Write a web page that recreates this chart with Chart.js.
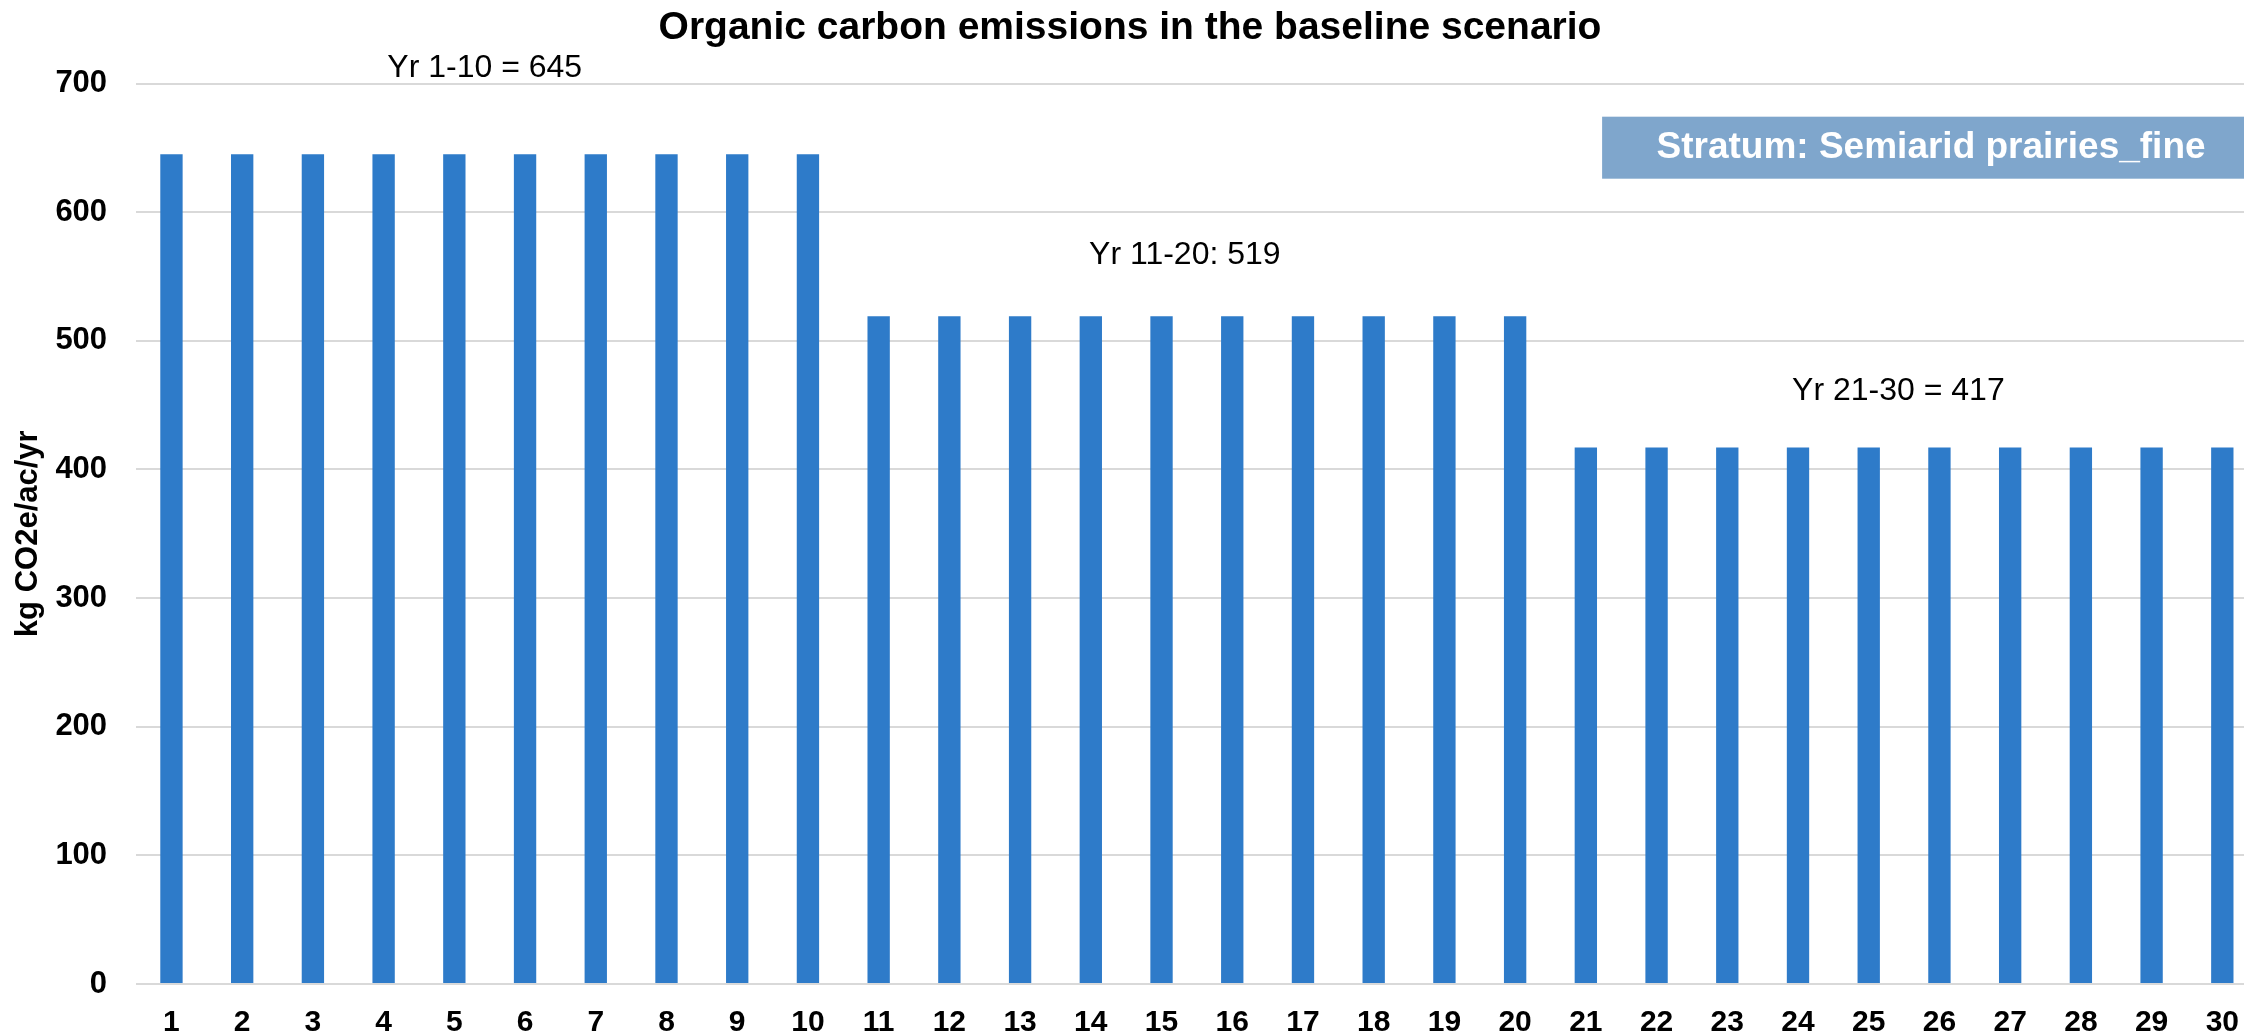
<!DOCTYPE html>
<html>
<head>
<meta charset="utf-8">
<script src="https://cdn.jsdelivr.net/npm/chart.js@4/dist/chart.umd.min.js"></script>
<style>
  html, body { margin: 0; padding: 0; background: #ffffff; overflow: hidden; }
  #wrap { position: relative; width: 2260px; height: 1036px; }
</style>
</head>
<body>
<div id="wrap"><canvas id="chart"></canvas></div>
<script>
// Project years
const years = ['1','2','3','4','5','6','7','8','9','10',
               '11','12','13','14','15','16','17','18','19','20',
               '21','22','23','24','25','26','27','28','29','30'];

// Organic carbon emissions per year (kg CO2e/ac/yr)
const emissions = [645, 645, 645, 645, 645, 645, 645, 645, 645, 645,
                   519, 519, 519, 519, 519, 519, 519, 519, 519, 519,
                   417, 417, 417, 417, 417, 417, 417, 417, 417, 417];

// Y axis range and step
const yMin = 0;
const yMax = 700;
const yStep = 100;

// Period averages written above each block of ten years
const periodLabels = [
  'Yr 1-10 = ' + emissions[0],
  'Yr 11-20: ' + emissions[10],
  'Yr 21-30 = ' + emissions[20]
];
// Where each period label sits, in (category index, axis value) units
const periodLabelAnchors = [
  { x: 4.43, y: 711.7 },
  { x: 14.33, y: 566.3 },
  { x: 24.42, y: 461.0 }
];

const stratumText = 'Stratum: Semiarid prairies_fine';

const FONT = "'Liberation Sans', Arial, Helvetica, sans-serif";

const annotations = {
  id: 'annotations',
  afterDraw(chart) {
    const { ctx, scales: { x, y } } = chart;
    ctx.save();

    // Stratum banner in the upper right
    const bx0 = x.getPixelForValue(20.23);
    const bx1 = chart.width;
    const by0 = y.getPixelForValue(674.2);
    const by1 = y.getPixelForValue(626.0);
    ctx.fillStyle = '#7fa6cc';
    ctx.fillRect(bx0, by0, bx1 - bx0, by1 - by0);
    ctx.fillStyle = '#ffffff';
    ctx.font = 'bold 37px ' + FONT;
    ctx.textAlign = 'center';
    ctx.textBaseline = 'middle';
    ctx.fillText(stratumText, (bx0 + bx1) / 2, (by0 + by1) / 2);

    // Period averages
    ctx.fillStyle = '#000000';
    ctx.font = '32px ' + FONT;
    periodLabels.forEach((t, i) => {
      const a = periodLabelAnchors[i];
      ctx.fillText(t, x.getPixelForValue(a.x), y.getPixelForValue(a.y));
    });
    ctx.restore();
  }
};

new Chart(document.getElementById('chart'), {
  type: 'bar',
  data: {
    labels: years,
    datasets: [{
      data: emissions,
      backgroundColor: '#2e7bc9',
      borderWidth: 0,
      categoryPercentage: 1.0,
      barPercentage: 0.316
    }]
  },
  options: {
    responsive: true,
    maintainAspectRatio: false,
    animation: false,
    layout: { padding: 0 },
    plugins: {
      legend: { display: false },
      tooltip: { enabled: false },
      title: {
        display: true,
        text: 'Organic carbon emissions in the baseline scenario',
        color: '#000000',
        font: { family: FONT, size: 39, weight: 'bold', lineHeight: 1.2 },
        padding: { top: 5, bottom: 31.7 }
      }
    },
    scales: {
      x: {
        grid: { display: false, drawTicks: false },
        border: { display: false },
        ticks: {
          color: '#000000',
          font: { family: FONT, size: 30, weight: 'bold', lineHeight: 1.2 },
          padding: 21,
          maxRotation: 0,
          autoSkip: false
        },
        afterFit(scale) { scale.height = 52; }
      },
      y: {
        min: yMin,
        max: yMax,
        grid: { color: '#d9d9d9', lineWidth: 2, drawTicks: false },
        border: { display: false },
        ticks: {
          stepSize: yStep,
          color: '#000000',
          font: { family: FONT, size: 31, weight: 'bold', lineHeight: 1.2 },
          padding: 29
        },
        title: {
          display: true,
          text: 'kg CO2e/ac/yr',
          color: '#000000',
          font: { family: FONT, size: 31, weight: 'bold', lineHeight: 1.2 },
          padding: { top: 10, bottom: 0 }
        },
        afterFit(scale) { scale.width = 136.1; }
      }
    }
  },
  plugins: [annotations]
});
</script>
</body>
</html>
